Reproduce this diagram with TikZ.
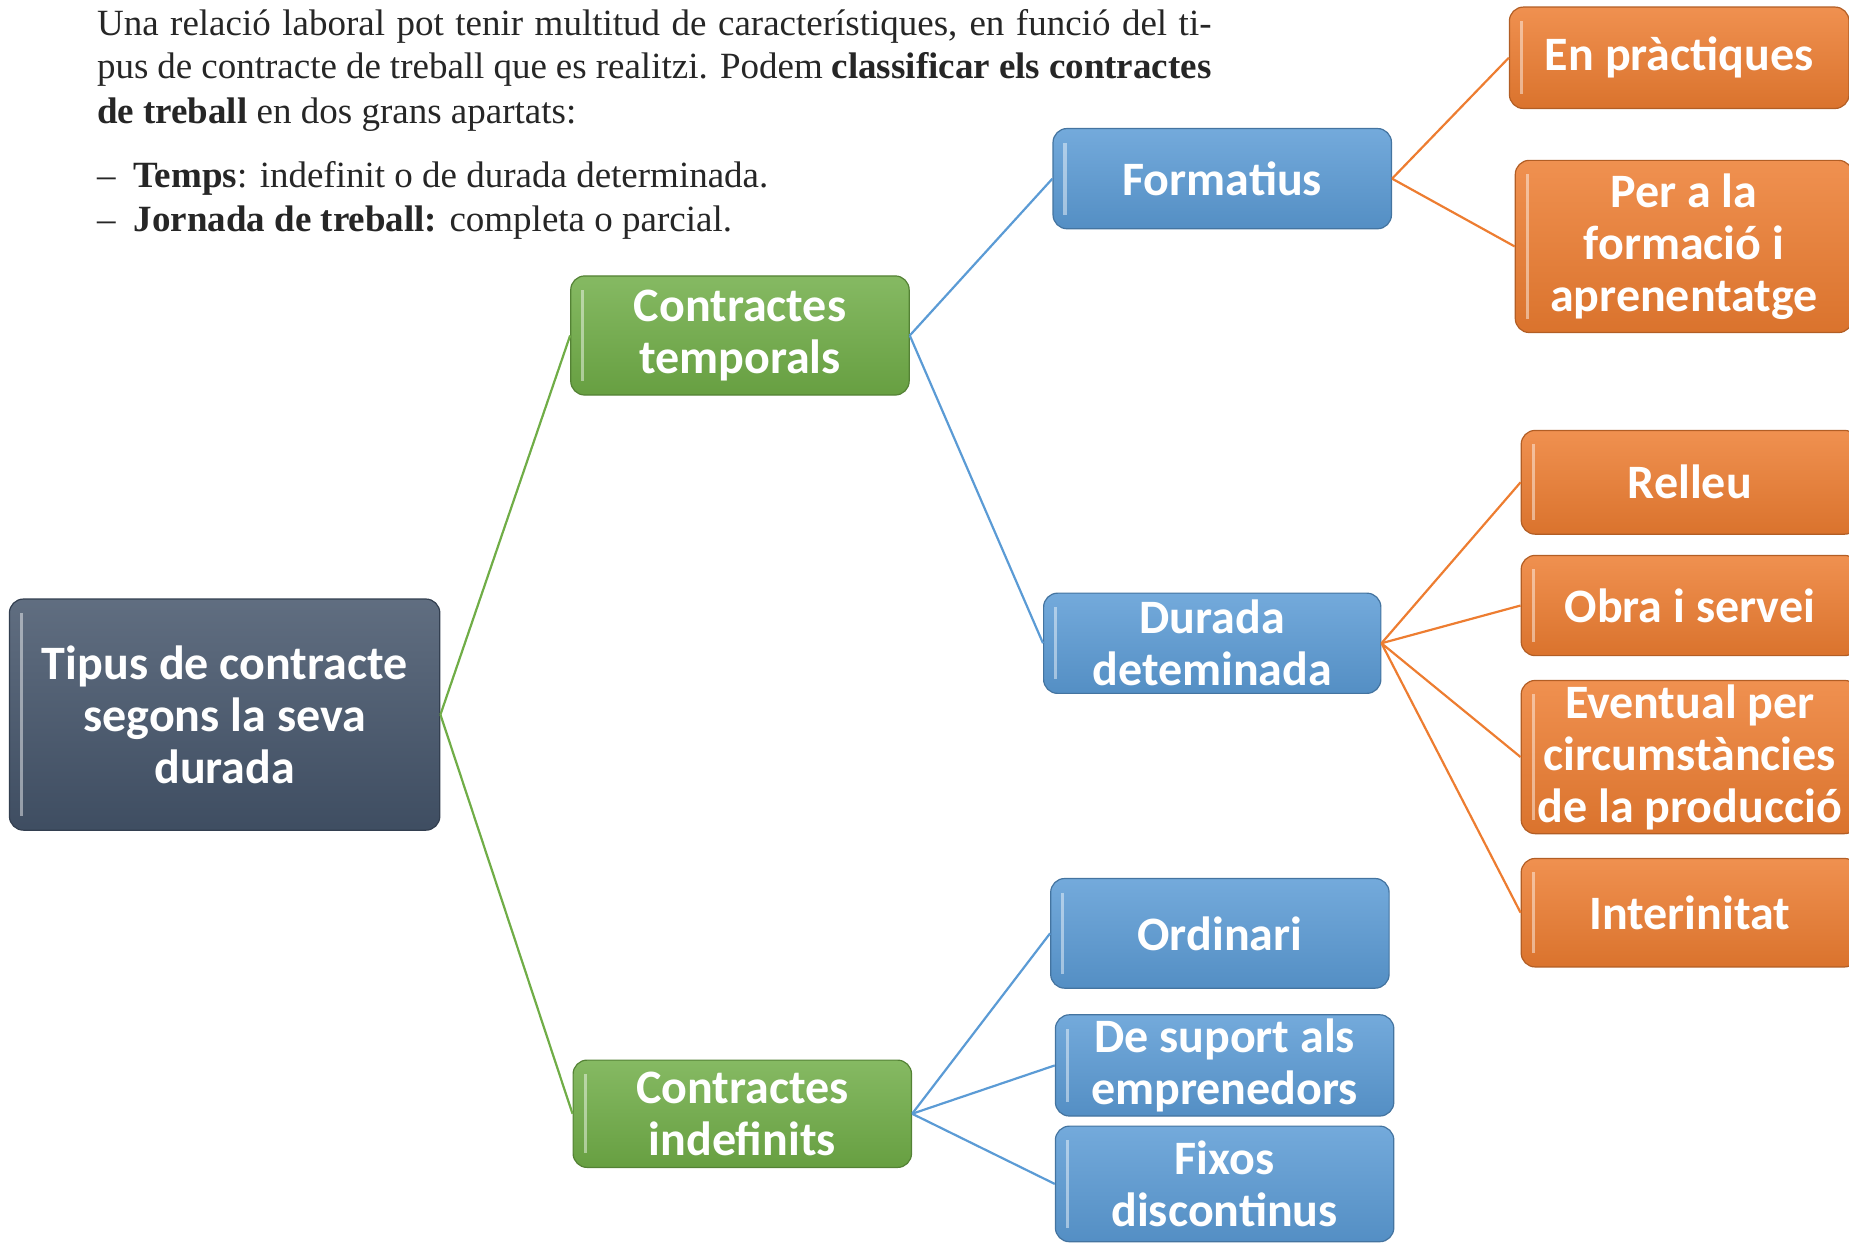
\documentclass[tikz,border=0pt]{standalone}
\usepackage{fontspec}
\setmainfont{Liberation Serif}
\newfontfamily\boxfont{Carlito}
\newdimen\px \px=0.5896pt
\definecolor{rootcol}{HTML}{44546A}
\definecolor{grncol}{HTML}{70AD47}
\definecolor{blucol}{HTML}{5B9BD5}
\definecolor{orgcol}{HTML}{ED7D31}
\begin{document}
\begin{tikzpicture}[x=0.5896pt, y=-0.5896pt,
    box/.style={rounded corners=7pt, draw=#1!75!black, line width=0.6pt,
      top color=#1!85!white, bottom color=#1!92!black, text=white,
      font=\boxfont\bfseries\fontsize{24}{26}\selectfont, align=center, inner sep=2pt,
      path picture={\draw[white, opacity=0.45, line width=1.6pt]
        ([xshift=6pt,yshift=-7pt]path picture bounding box.north west) --
        ([xshift=6pt,yshift=7pt]path picture bounding box.south west);}},
    link/.style={#1, line width=1.1pt},
    txt/.style={anchor=base west, inner sep=0pt, text=black!85,
      font=\fontsize{18.5}{22}\selectfont}]
    \useasboundingbox (0,0) rectangle (1568,1055);
    \clip (0,0) rectangle (1568,1055);
    % Paragraph
    \node[txt] (line1) at (82,30) {\makebox[945\px][s]{Una relació laboral pot tenir multitud de característiques, en funció del ti-}};
    \node[txt] (line2) at (82,67) {\makebox[945\px][s]{pus de contracte de treball que es realitzi. Podem \textbf{classificar els contractes}}};
    \node[txt] (line3) at (82,105) {\textbf{de treball} en dos grans apartats:};
    \node[txt] (dash1) at (82,159) {–};
    \node[txt] (line4) at (113,159) {\textbf{Temps}: indefinit o de durada determinada.};
    \node[txt] (dash2) at (82,196) {–};
    \node[txt] (line5) at (113,196) {\textbf{Jornada de treball:} completa o parcial.};

    % Root
    \node[box=rootcol, minimum width=365\px, minimum height=196\px] (root) at (190.5,606) {Tipus de contracte\\segons la seva\\durada};
    % Green level
    \node[box=grncol, minimum width=287\px, minimum height=101\px] (temp) at (627.5,284.5) {Contractes\\temporals};
    \node[box=grncol, minimum width=287\px, minimum height=91\px] (indef) at (629.5,944.5) {Contractes\\indefinits};
    % Blue level
    \node[box=blucol, minimum width=287\px, minimum height=85\px] (form) at (1036.5,151.5) {Formatius};
    \node[box=blucol, minimum width=286\px, minimum height=85\px] (durada) at (1028,545.5) {Durada\\deteminada};
    \node[box=blucol, minimum width=287\px, minimum height=93\px] (ordin) at (1034.5,791.5) {Ordinari};
    \node[box=blucol, minimum width=287\px, minimum height=83\px] (suport) at (1038.5,903.5) {De suport als\\emprenedors};
    \node[box=blucol, minimum width=287\px, minimum height=98\px] (fixos) at (1038.5,1004) {Fixos\\discontinus};
    % Orange level
    \node[box=orgcol, minimum width=288\px, minimum height=86\px] (pract) at (1424,49) {En pràctiques};
    \node[box=orgcol, minimum width=286\px, minimum height=146\px] (pera) at (1428,209) {Per a la\\formació i\\aprenentatge};
    \node[box=orgcol, minimum width=286\px, minimum height=88\px] (relleu) at (1433,409) {Relleu};
    \node[box=orgcol, minimum width=286\px, minimum height=85\px] (obra) at (1433,513.5) {Obra i servei};
    \node[box=orgcol, minimum width=286\px, minimum height=126\px] (event) at (1433,642) {Eventual per\\circumstàncies\\de la producció};
    \node[box=orgcol, minimum width=286\px, minimum height=92\px] (inter) at (1433,774) {Interinitat};

    % Connectors
    \draw[link=grncol] (root.east) -- (temp.west);
    \draw[link=grncol] (root.east) -- (indef.west);
    \draw[link=blucol] (temp.east) -- (form.west);
    \draw[link=blucol] (temp.east) -- (durada.west);
    \draw[link=blucol] (indef.east) -- (ordin.west);
    \draw[link=blucol] (indef.east) -- (suport.west);
    \draw[link=blucol] (indef.east) -- (fixos.west);
    \draw[link=orgcol] (form.east) -- (pract.west);
    \draw[link=orgcol] (form.east) -- (pera.west);
    \draw[link=orgcol] (durada.east) -- (relleu.west);
    \draw[link=orgcol] (durada.east) -- (obra.west);
    \draw[link=orgcol] (durada.east) -- (event.west);
    \draw[link=orgcol] (durada.east) -- (inter.west);
  \end{tikzpicture}
\end{document}
